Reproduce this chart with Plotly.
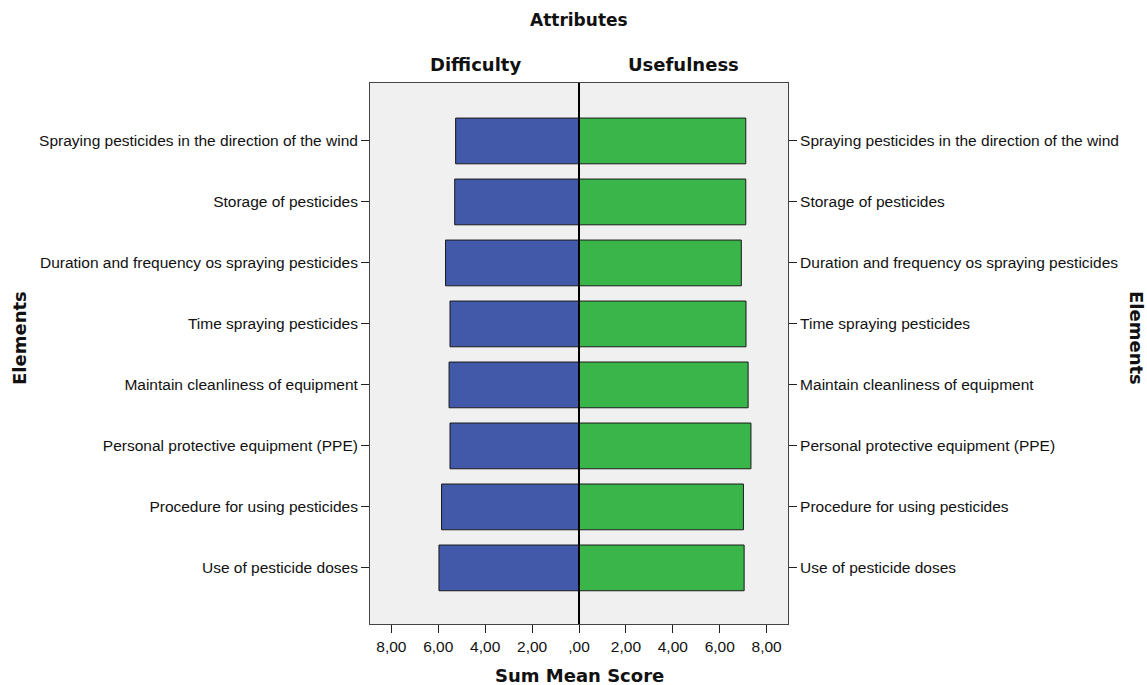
import plotly.graph_objects as go

categories = [
    "Spraying pesticides in the direction of the wind",
    "Storage of pesticides",
    "Duration and frequency os spraying pesticides",
    "Time spraying pesticides",
    "Maintain cleanliness of equipment",
    "Personal protective equipment (PPE)",
    "Procedure for using pesticides",
    "Use of pesticide doses",
]
difficulty = [5.26, 5.30, 5.69, 5.50, 5.54, 5.50, 5.86, 5.97]
usefulness = [7.11, 7.11, 6.92, 7.12, 7.21, 7.33, 7.01, 7.04]
x_tickvals = [-8, -6, -4, -2, 0, 2, 4, 6, 8]
x_ticktext = ["8,00", "6,00", "4,00", "2,00", ",00", "2,00", "4,00", "6,00", "8,00"]

BLUE = "#4159A8"
GREEN = "#3AB54A"
TICKFONT = dict(family="Liberation Sans, Arial, sans-serif", size=15.5, color="#111")
TITLEFONT = dict(family="DejaVu Sans, Verdana, sans-serif", size=18, color="#111")

fig = go.Figure()
fig.add_trace(go.Bar(
    y=categories, x=[-v for v in difficulty], orientation="h",
    marker=dict(color=BLUE, line=dict(color="#1a1a1a", width=1)),
    width=0.75, yaxis="y", name="Difficulty", showlegend=False,
))
fig.add_trace(go.Bar(
    y=categories, x=usefulness, orientation="h",
    marker=dict(color=GREEN, line=dict(color="#1a1a1a", width=1)),
    width=0.75, yaxis="y2", name="Usefulness", showlegend=False,
))

yrange = [7.92, -0.95]
common_y = dict(
    type="category", categoryorder="array", categoryarray=categories,
    range=yrange, ticks="outside", ticklen=8, tickcolor="#222", tickwidth=1,
    tickfont=TICKFONT, showgrid=False, zeroline=False,
)
fig.update_layout(
    width=1147, height=685,
    margin=dict(l=370, r=359, t=83, b=61),
    paper_bgcolor="white", plot_bgcolor="#F0F0F0",
    barmode="overlay",
    xaxis=dict(
        range=[-8.91, 8.91], tickvals=x_tickvals, ticktext=x_ticktext,
        ticks="outside", ticklen=8, tickcolor="#222", tickfont=TICKFONT,
        showgrid=False, zeroline=False, showline=True, mirror=True,
        linecolor="#444", linewidth=1,
    ),
    yaxis=dict(**common_y, side="left", showline=True, mirror=True,
               linecolor="#444", linewidth=1),
    yaxis2=dict(**common_y, side="right", overlaying="y", showline=False),
    shapes=[dict(type="line", xref="x", yref="paper", x0=0, x1=0, y0=0, y1=1,
                 line=dict(color="black", width=2))],
    annotations=[
        dict(text="<b>Attributes</b>", x=579, y=20, showarrow=False, font=dict(TITLEFONT, size=17)),
        dict(text="<b>Difficulty</b>", x=475, y=64, showarrow=False, font=TITLEFONT),
        dict(text="<b>Usefulness</b>", x=683, y=64, showarrow=False, font=TITLEFONT),
        dict(text="<b>Sum Mean Score</b>", x=579, y=676, showarrow=False, font=TITLEFONT),
        dict(text="<b>Elements</b>", x=19, y=338, showarrow=False, font=TITLEFONT, textangle=-90),
        dict(text="<b>Elements</b>", x=1137, y=338, showarrow=False, font=TITLEFONT, textangle=90),
    ],
)

# convert pixel-positioned annotations to paper coords
pl, pr, pt, pb = 370, 1147 - 359, 83, 685 - 61
for a in fig.layout.annotations:
    px, py = a.x, a.y
    a.xref = "paper"; a.yref = "paper"
    a.x = (px - pl) / (pr - pl)
    a.y = (pb - py) / (pb - pt)
    a.xanchor = "center"; a.yanchor = "middle"

fig.write_html(
    "out.html",
    config={"displayModeBar": False},
    post_script="document.body.style.margin='0';document.body.style.overflow='hidden';",
)
